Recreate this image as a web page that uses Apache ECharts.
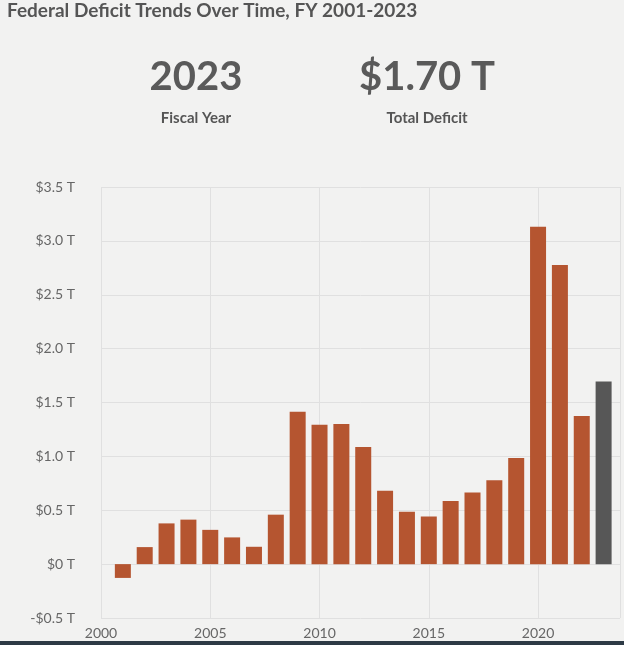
<!DOCTYPE html><html><head><meta charset="utf-8"><script src="https://cdn.jsdelivr.net/npm/echarts@6/dist/echarts.min.js"></script>
<style>html,body{margin:0;padding:0;background:#f2f2f1;}#c{width:624px;height:645px;}</style></head><body><div id="c"></div><script>
const years=[2001,2002,2003,2004,2005,2006,2007,2008,2009,2010,2011,2012,2013,2014,2015,2016,2017,2018,2019,2020,2021,2022,2023];
const deficits=[-0.128,0.158,0.378,0.413,0.318,0.248,0.161,0.459,1.413,1.294,1.300,1.087,0.680,0.485,0.442,0.585,0.665,0.779,0.984,3.132,2.775,1.375,1.695];
const yTicks=[-0.5,0,0.5,1,1.5,2,2.5,3,3.5];
const fmt=v=>(v<0?'-$'+Math.abs(v).toFixed(1):v===0?'$0':'$'+v.toFixed(1))+' T';
const ch=echarts.init(document.getElementById('c'));
const data=years.map((y,i)=>({value:[y,deficits[i]],itemStyle:{color:i===years.length-1?'#575757':'#b55530'}}));
ch.setOption({backgroundColor:'#f2f2f1',animation:false,
title:[{text:'Federal Deficit Trends Over Time, FY 2001-2023',left:2,top:-4,textStyle:{fontFamily:'Lato',fontSize:19,fontWeight:'bold',color:'#555'}},
{text:'2023',subtext:'Fiscal Year',left:191,top:52,textAlign:'center',itemGap:14,textStyle:{fontFamily:'Lato',fontSize:40,fontWeight:'bold',color:'#5a5a5a'},subtextStyle:{fontFamily:'Lato',fontSize:15,fontWeight:'bold',color:'#555'}},
{text:'$1.70 T',subtext:'Total Deficit',left:422,top:52,textAlign:'center',itemGap:14,textStyle:{fontFamily:'Lato',fontSize:40,fontWeight:'bold',color:'#5a5a5a'},subtextStyle:{fontFamily:'Lato',fontSize:15,fontWeight:'bold',color:'#555'}}],
grid:{left:101,right:4,top:187,bottom:27},
xAxis:{type:'value',min:2000,max:2023.75,interval:5,axisLine:{show:false},axisTick:{show:false},
axisLabel:{showMaxLabel:false,formatter:v=>String(v),color:'#666',fontFamily:'Lato',fontSize:14,margin:8},splitLine:{lineStyle:{color:'#e0e0e0'}}},
yAxis:{type:'value',min:-0.5,max:3.5,interval:0.5,axisLabel:{formatter:fmt,color:'#666',fontFamily:'Lato',fontSize:14,margin:26},splitLine:{lineStyle:{color:'#e0e0e0'}},axisLine:{show:false},axisTick:{show:false}},
series:[{type:'bar',data:data,barWidth:16}],
graphic:[{type:'rect',shape:{x:0,y:641,width:624,height:4},style:{fill:'#2d3a45'}}]
});
</script></body></html>
